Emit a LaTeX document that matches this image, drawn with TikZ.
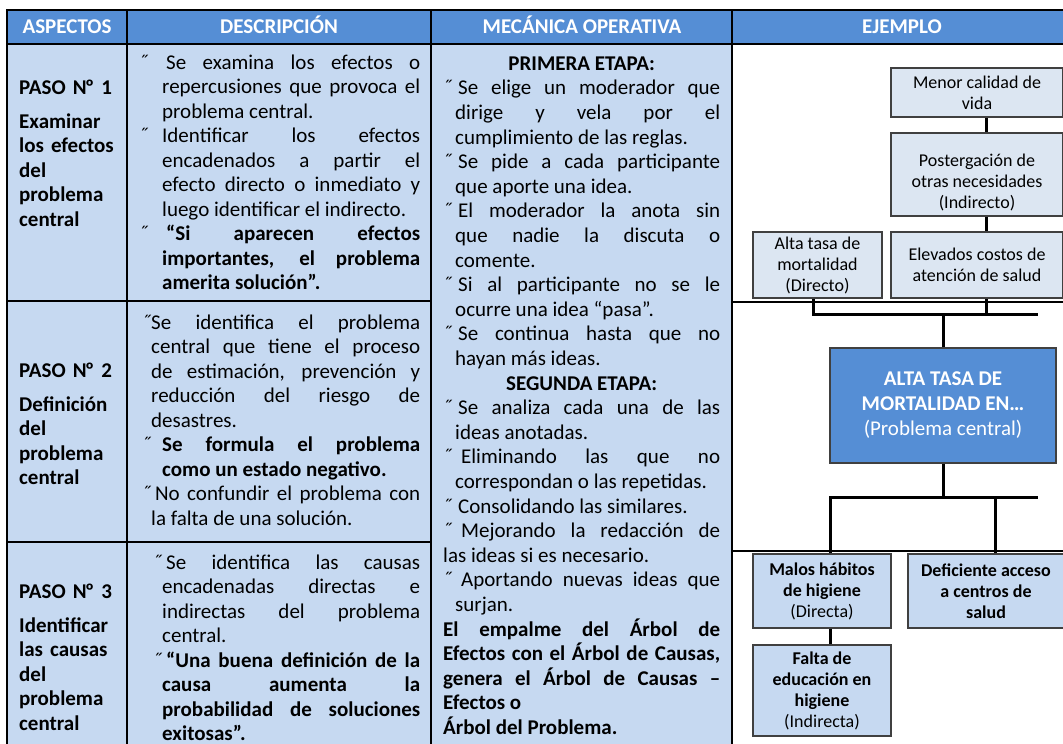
\documentclass[tikz,border=0pt]{standalone}
\usepackage{fontspec}
\setmainfont{Carlito}
\usetikzlibrary{positioning}

\definecolor{hdrblue}{RGB}{85,142,213}
\definecolor{cellblue}{RGB}{198,217,241}
\definecolor{paleblue}{RGB}{220,230,242}

\tolerance=10000
\hbadness=10000
\hyphenpenalty=10000

% bullet with hanging indent: {hang}{bullet shift}{first text start}
\newcommand\firstbul[3]{\hangindent=#1\hangafter=1\noindent
  \hbox to #3{\hskip#2\rule{0pt}{16pt}\smash{˝}\hss}\ignorespaces}
\newcommand\bul[3]{\par\firstbul{#1}{#2}{#3}}
\newcommand\fst{\rule{0pt}{16pt}}
\newcommand\nro{N\kern-1.5ptº}

\tikzset{
  grid/.style={line width=2pt, black},
  head/.style={text=white, inner sep=0pt, text height=14pt, text depth=0pt,
    font=\fontsize{21}{25}\selectfont\bfseries},
  stepcol/.style={anchor=north west, inner sep=0pt, text width=108pt, align=left,
    font=\fontsize{21}{24.5}\selectfont\bfseries},
  desc/.style={anchor=north west, inner sep=0pt, text width=281pt, align=justify,
    font=\fontsize{21}{24.5}\selectfont},
  mech/.style={anchor=north west, inner sep=0pt, text width=277pt, align=justify,
    font=\fontsize{21}{24.6}\selectfont},
  effbox/.style={draw=black!75, line width=1.5pt, fill=paleblue, inner sep=0pt,
    align=center, font=\fontsize{18}{21}\selectfont},
  causebox/.style={effbox, fill=cellblue},
  link/.style={line width=3pt, black}
}

\begin{document}
\begin{tikzpicture}[x=1pt, y=-1pt]

% Set the size of the figure
\useasboundingbox (0,0) rectangle (1063,744);
\clip (0,0) rectangle (1063,744);

% Table background
\fill[hdrblue] (7,10) rectangle (1072,44);
\fill[cellblue] (7,44) rectangle (732,750);

% Table grid
\draw[grid] (7,750) -- (7,10) -- (1072,10) -- (1072,750);
\draw[grid] (7,44) -- (1072,44);
\foreach \x in {127,431,732}
  \draw[grid] (\x,10) -- (\x,750);
\draw[grid] (7,301) -- (431,301);
\draw[grid] (7,542) -- (431,542);
\draw[grid] (732,302) -- (1072,302);
\draw[grid] (732,551) -- (1072,551);

% Header row
\node[head] (hasp) at (67,27) {ASPECTOS};
\node[head] (hdes) at (279,27) {DESCRIPCIÓN};
\node[head] (hmec) at (582,27) {MECÁNICA OPERATIVA};
\node[head] (hejm) at (902,27) {EJEMPLO};

% Column 1: steps
\node[stepcol] (paso1) at (19,78) {\fst PASO \nro{} 1\par\vspace{9.5pt}Examinar\\los efectos\\del\\problema\\central};
\node[stepcol] (paso2) at (19,361) {\fst PASO \nro{} 2\par\vspace{9.5pt}Definición\\del\\problema\\central};
\node[stepcol] (paso3) at (19,582) {\fst PASO \nro{} 3\par\vspace{9.5pt}Identificar\\las causas\\del\\problema\\central};

% Column 2: description
\node[desc] (desc1) at (139,53) {%
\firstbul{23pt}{0pt}{27pt}Se examina los efectos o\linebreak repercusiones que provoca el\linebreak problema central.
\bul{23pt}{0pt}{23pt}Identificar los efectos\linebreak encadenados a partir el\linebreak efecto directo o inmediato y\linebreak luego identificar el indirecto.
\bul{23pt}{0pt}{27pt}\textbf{“Si aparecen efectos\linebreak importantes, el problema\linebreak amerita solución”.}\par};

\node[desc] (desc2) at (139,313) {%
\firstbul{12pt}{3pt}{12pt}Se identifica el problema\linebreak central que tiene el proceso\linebreak de estimación, prevención y\linebreak reducción del riesgo de\linebreak desastres.
\bul{23pt}{3pt}{23pt}\textbf{Se formula el problema\linebreak como un estado negativo.}
\bul{12pt}{3pt}{16pt}No confundir el problema con\linebreak la falta de una solución.\par};

\node[desc] (desc3) at (139,553) {%
\firstbul{23pt}{14pt}{27pt}Se identifica las causas\linebreak encadenadas directas e\linebreak indirectas del problema\linebreak central.
\bul{23pt}{14pt}{27pt}\textbf{“Una buena definición de la\linebreak causa aumenta la\linebreak probabilidad de soluciones\linebreak exitosas”.}\par};

% Column 3: operative mechanics
\node[mech] (mech) at (443,54) {%
\centerline{\fst\textbf{PRIMERA ETAPA:}}
\bul{12pt}{0pt}{15pt}Se elige un moderador que\linebreak dirige y vela por el\linebreak cumplimiento de las reglas.
\bul{12pt}{0pt}{15pt}Se pide a cada participante\linebreak que aporte una idea.
\bul{12pt}{0pt}{15pt}El moderador la anota sin\linebreak que nadie la discuta o\linebreak comente.
\bul{12pt}{0pt}{15pt}Si al participante no se le\linebreak ocurre una idea “pasa”.
\bul{12pt}{0pt}{15pt}Se continua hasta que no\linebreak hayan más ideas.
\par\centerline{\textbf{SEGUNDA ETAPA:}}
\bul{12pt}{0pt}{15pt}Se analiza cada una de las\linebreak ideas anotadas.
\bul{12pt}{0pt}{18pt}Eliminando las que no\linebreak correspondan o las repetidas.
\bul{12pt}{0pt}{15pt}Consolidando las similares.
\bul{0pt}{0pt}{18pt}Mejorando la redacción de\linebreak las ideas si es necesario.
\bul{12pt}{0pt}{18pt}Aportando nuevas ideas que\linebreak surjan.
\par\noindent\textbf{El empalme del Árbol de\linebreak Efectos con el Árbol de Causas,\linebreak genera el Árbol de Causas –\linebreak Efectos o\newline Árbol del Problema.}\par};

% Column 4: problem tree, effects
\node[effbox, minimum width=172pt, minimum height=49pt] (menor) at (977,92.5) {Menor calidad de\\vida};
\node[effbox, minimum width=172pt, minimum height=83pt] (poster) at (977,174.5) {\rule{0pt}{29pt}Postergación de\\otras necesidades\\(Indirecto)};
\node[effbox, minimum width=129pt, minimum height=66pt] (alta) at (817.5,265) {Alta tasa de\\mortalidad\\(Directo)};
\node[effbox, minimum width=172pt, minimum height=66pt] (elev) at (977,265) {Elevados costos de\\atención de salud};

% central problem
\node[effbox, fill=hdrblue, text=white, font=\fontsize{21}{25}\selectfont,
  minimum width=226pt, minimum height=115pt] (central) at (943,405.5)
  {\textbf{ALTA TASA DE}\\\textbf{MORTALIDAD EN…}\\(Problema central)};

% causes
\node[causebox, minimum width=138pt, minimum height=74pt] (malos) at (822,591) {\textbf{Malos hábitos}\\\textbf{de higiene}\\(Directa)};
\node[causebox, minimum width=138pt, minimum height=91pt] (falta) at (822,690.5) {\textbf{Falta de}\\\textbf{educación en}\\\textbf{higiene}\\(Indirecta)};
\node[causebox, minimum width=156pt, minimum height=74pt] (defic) at (986,591) {\textbf{Deficiente acceso}\\\textbf{a centros de}\\\textbf{salud}};

% Connectors
\coordinate (ebus) at (1038,314);
\coordinate (cbus) at (1038,497);
\draw[link] ([xshift=9pt]menor.south) -- ([xshift=9pt]poster.north);
\draw[link] ([xshift=9pt]poster.south) -- ([xshift=9pt]elev.north);
\draw[link] ([xshift=-4.5pt]alta.south) |- (ebus);
\draw[link] ([xshift=9pt]elev.south) -- ([xshift=9pt]elev.south |- ebus);
\draw[link] (central.north) -- (central.north |- ebus);
\draw[link] (central.south) -- (central.south |- cbus);
\draw[link] ([xshift=8pt]malos.north) |- (cbus);
\draw[link] ([xshift=9pt]defic.north) -- ([xshift=9pt]defic.north |- cbus);
\draw[link] ([xshift=8pt]malos.south) -- ([xshift=8pt]falta.north);

\end{tikzpicture}
\end{document}
